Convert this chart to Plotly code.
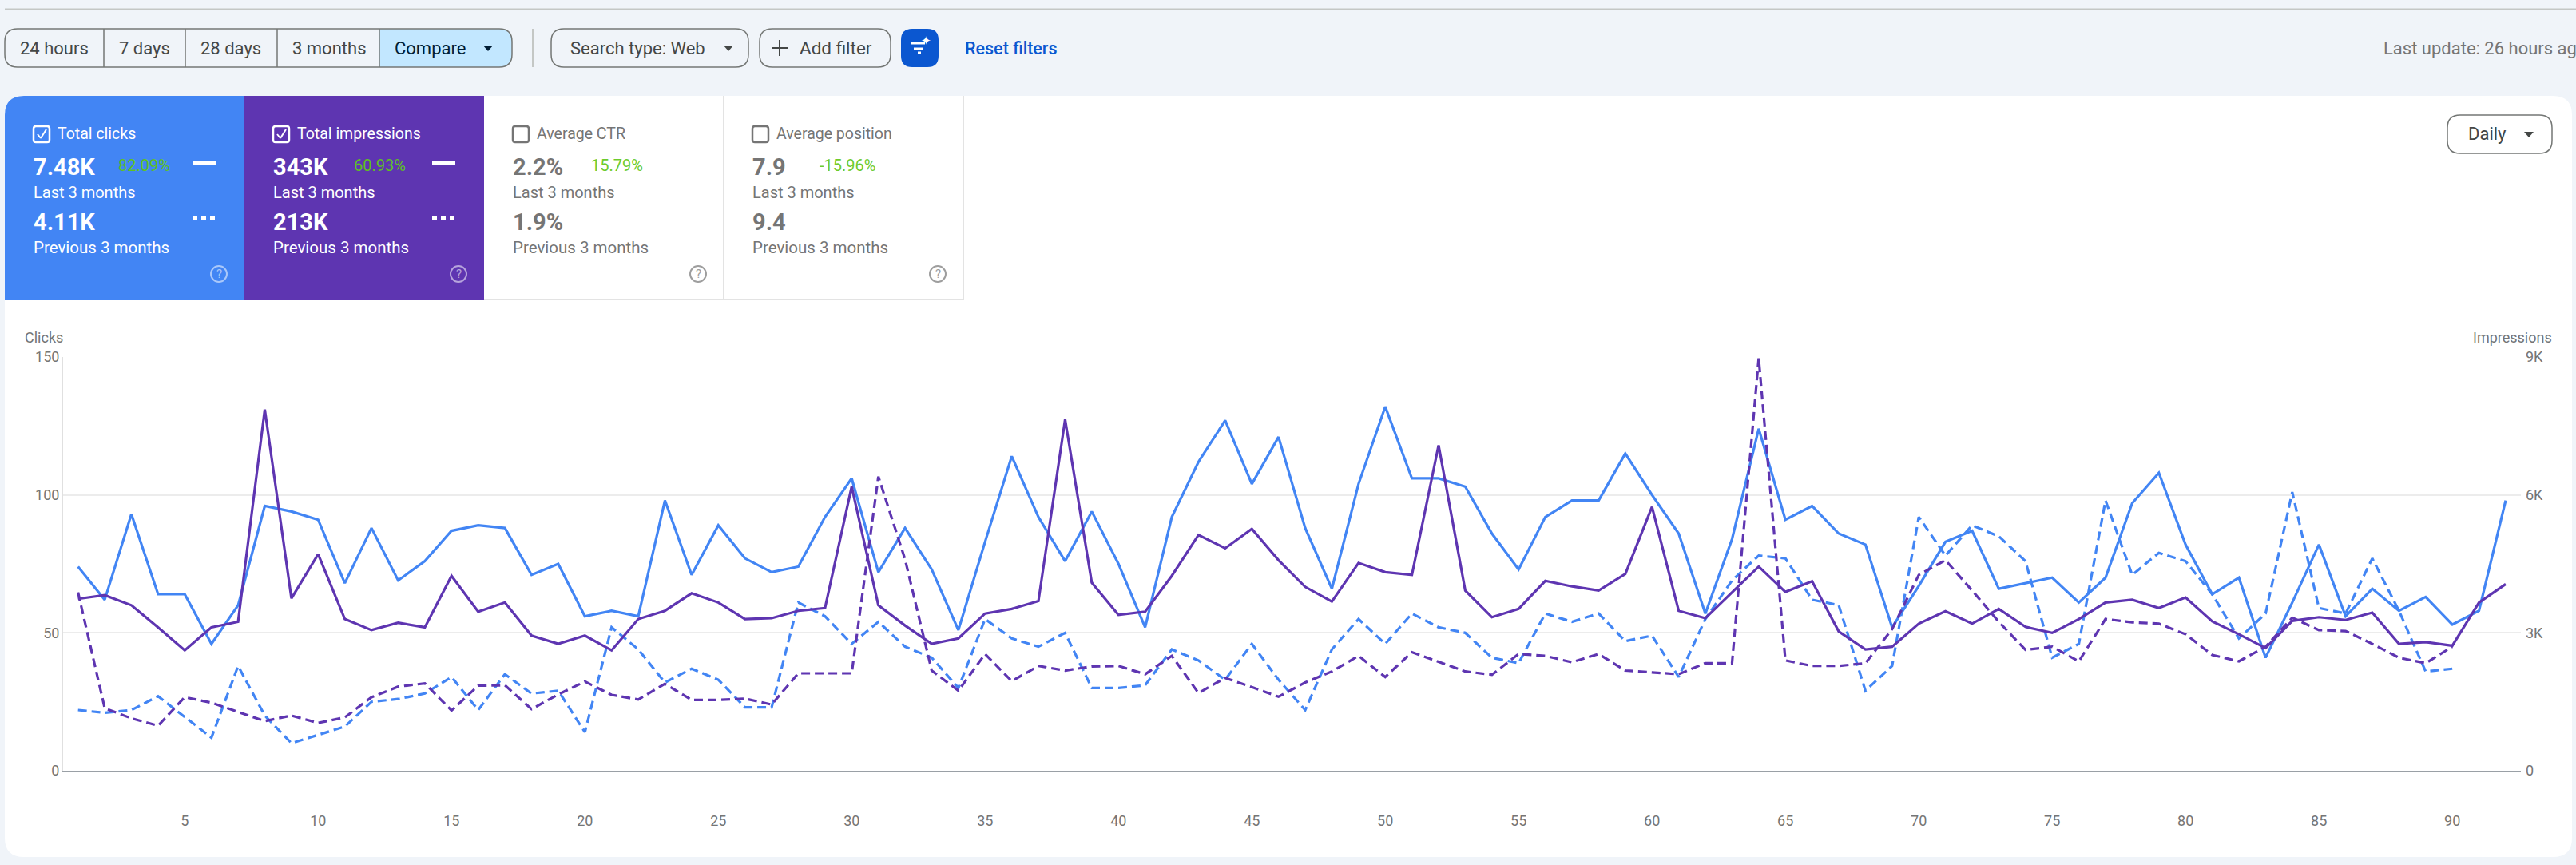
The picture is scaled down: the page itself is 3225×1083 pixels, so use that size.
import plotly.graph_objects as go

W = 3225
H = 1083

# Values
clicks_current = [74, 62, 93, 64, 64, 46, 60, 96, 94, 91, 68, 88, 69, 76, 87, 89, 88, 71, 75, 56, 58, 56, 98,
                  71, 89, 77, 72, 74, 92, 106, 72, 88, 73, 51, 83, 114, 92, 76, 94, 75, 52, 92, 112, 127, 104,
                  121, 88, 66, 104, 132, 106, 106, 103, 86, 73, 92, 98, 98, 115, 100, 86, 57, 84, 124, 91, 96,
                  86, 82, 52, 67, 83, 87, 66, 68, 70, 61, 70, 97, 108, 82, 64, 70, 41, 61, 82, 56, 66, 58, 63,
                  53, 58, 98]
clicks_previous = [22, 21, 22, 27, 19.5, 12, 38, 20, 10, 13, 16, 25, 26, 28, 34, 22, 35, 28, 29, 14, 52, 44,
                   32, 37, 33, 23, 23, 61, 56, 46, 54, 45, 41, 30, 55, 48, 45, 50, 30, 30, 31, 44, 40, 33, 46,
                   33, 22, 44, 55, 46, 57, 52, 50, 41, 39, 57, 54, 57, 47, 49, 34, 55, 69, 78, 77, 62, 60, 29,
                   38, 92, 78, 89, 85, 76, 41, 46, 98, 71, 79, 76, 64, 48, 57, 101, 59, 57, 77, 58, 36, 37]
impressions_current = [3740, 3820, 3600, 3120, 2620, 3120, 3240, 7860, 3750, 4710, 3300, 3060, 3220, 3120,
                       4240, 3460, 3660, 2940, 2760, 2940, 2620, 3300, 3480, 3860, 3660, 3300, 3320, 3480,
                       3540, 6180, 3600, 3160, 2760, 2880, 3420, 3520, 3690, 7640, 4090, 3390, 3460, 4240,
                       5130, 4840, 5260, 4580, 4000, 3680, 4520, 4320, 4260, 7080, 3920, 3340, 3520, 4130,
                       4010, 3920, 4280, 5740, 3480, 3320, 3880, 4440, 3890, 4120, 3030, 2640, 2700, 3200,
                       3470, 3200, 3520, 3130, 3000, 3300, 3660, 3720, 3540, 3770, 3250, 2970, 2670, 3260,
                       3340, 3280, 3440, 2760, 2800, 2720, 3660, 4060]
impressions_previous = [3880, 1360, 1140, 980, 1600, 1480, 1280, 1080, 1200, 1040, 1160, 1600, 1830, 1900,
                        1310, 1850, 1860, 1340, 1660, 1940, 1650, 1550, 1890, 1540, 1540, 1570, 1440, 2120,
                        2120, 2120, 6400, 4600, 2180, 1740, 2540, 1950, 2280, 2180, 2270, 2280, 2100, 2500,
                        1690, 2020, 1820, 1610, 1920, 2160, 2500, 2040, 2580, 2370, 2160, 2090, 2540, 2500,
                        2360, 2540, 2180, 2140, 2100, 2340, 2340, 8970, 2400, 2280, 2280, 2340, 3080, 4260,
                        4580, 3920, 3240, 2630, 2700, 2380, 3300, 3230, 3200, 2970, 2520, 2380, 2700, 3330,
                        3060, 3040, 2760, 2460, 2340, 2700]

x_ticks = [5, 10, 15, 20, 25, 30, 35, 40, 45, 50, 55, 60, 65, 70, 75, 80, 85, 90]
clicks_ticks = [0, 50, 100, 150]
impressions_ticks = [0, 3000, 6000, 9000]
impressions_ticktext = ['0', '3K', '6K', '9K']

# Score cards
card_names = ['Total clicks', 'Total impressions', 'Average CTR', 'Average position']
card_current = ['7.48K', '343K', '2.2%', '7.9']
card_previous = ['4.11K', '213K', '1.9%', '9.4']
card_change = ['82.09%', '60.93%', '15.79%', '-15.96%']
range_buttons = ['24 hours', '7 days', '28 days', '3 months', 'Compare']

BLUE = '#4285f4'
PURPLE = '#5e35b1'
PAGE = '#f0f4f9'
GREY_TEXT = '#757575'
DARK_TEXT = '#444746'
FONT = 'Roboto'

shapes = []
annotations = []


def px(x):
    return x / W


def py(y):
    return 1 - y / H


def round_rect(x0, y0, x1, y1, r=0, rl=None, rr=None, **kw):
    # rounded box in page pixels, rl / rr override the radius per side
    rl = r if rl is None else rl
    rr = r if rr is None else rr
    path = (f'M {px(x0 + rl)} {py(y0)} L {px(x1 - rr)} {py(y0)} '
            f'Q {px(x1)} {py(y0)} {px(x1)} {py(y0 + rr)} L {px(x1)} {py(y1 - rr)} '
            f'Q {px(x1)} {py(y1)} {px(x1 - rr)} {py(y1)} L {px(x0 + rl)} {py(y1)} '
            f'Q {px(x0)} {py(y1)} {px(x0)} {py(y1 - rl)} L {px(x0)} {py(y0 + rl)} '
            f'Q {px(x0)} {py(y0)} {px(x0 + rl)} {py(y0)} Z')
    shapes.append(dict(type='path', path=path, xref='paper', yref='paper', layer='below',
                       fillcolor=kw.get('fill', 'rgba(0,0,0,0)'),
                       line=dict(color=kw.get('line', 'rgba(0,0,0,0)'), width=kw.get('width', 0))))


def seg(x0, y0, x1, y1, color, width=2, dash='solid'):
    shapes.append(dict(type='line', xref='paper', yref='paper', layer='below',
                       x0=px(x0), y0=py(y0), x1=px(x1), y1=py(y1),
                       line=dict(color=color, width=width, dash=dash)))


def triangle(cx, cy, color, size=6):
    path = (f'M {px(cx - size)} {py(cy - size / 2)} L {px(cx + size)} {py(cy - size / 2)} '
            f'L {px(cx)} {py(cy + size / 2 + 1)} Z')
    shapes.append(dict(type='path', path=path, xref='paper', yref='paper', layer='below',
                       fillcolor=color, line=dict(width=0)))


def label(x, y, text, size, color, anchor='left', weight=400):
    annotations.append(dict(x=px(x), y=py(y), xref='paper', yref='paper', text=text, showarrow=False,
                            xanchor=anchor, yanchor='middle', borderpad=0,
                            font=dict(family=FONT, size=size, color=color, weight=weight)))


# Page furniture
seg(6, 11.5, W, 11.5, '#c4c7c5', 2)
round_rect(6, 120, 3220, 1073, r=24, fill='white')

# Date range buttons
BTN_TOP, BTN_BOTTOM = 36, 84
OUTLINE = '#747775'
edges = [6, 130, 232, 347, 475, 641]
round_rect(475, BTN_TOP, 641, BTN_BOTTOM, rl=0, rr=16, fill='#c2e7ff')
round_rect(6, BTN_TOP, 641, BTN_BOTTOM, r=16, line=OUTLINE, width=1.5)
for e in edges[1:-1]:
    seg(e, BTN_TOP, e, BTN_BOTTOM, OUTLINE, 1.5)
for name, start in zip(range_buttons, edges):
    label(start + 18, 60, name, 22, '#001d35' if name == 'Compare' else DARK_TEXT)
triangle(611, 60, '#001d35', 6)
seg(667, BTN_TOP, 667, BTN_BOTTOM, '#c4c7c5', 2)

round_rect(690, BTN_TOP, 937, BTN_BOTTOM, r=16, line=OUTLINE, width=1.5)
label(713, 60, 'Search type: Web', 22, DARK_TEXT)
triangle(912, 60, DARK_TEXT, 6)

round_rect(951, BTN_TOP, 1115, BTN_BOTTOM, r=16, line=OUTLINE, width=1.5)
seg(966, 60, 986, 60, DARK_TEXT, 2)
seg(976, 50, 976, 70, DARK_TEXT, 2)
label(1000, 60, 'Add filter', 22.5, DARK_TEXT)

round_rect(1128, BTN_TOP, 1175, BTN_BOTTOM, r=14, fill='#0b57d0')
seg(1141, 54, 1158, 54, 'white', 3)
seg(1144, 61, 1155, 61, 'white', 3)
seg(1149, 66, 1153, 66, 'white', 3)
label(1159, 51, '\u2726', 15, 'white', anchor='center')
label(1207, 60, 'Reset filters', 21.5, '#0b57d0', weight=500)
label(2983, 60, 'Last update: 26 hours ago', 22, GREY_TEXT)

# Score cards, only the top left corner of the first one is round
CARD_W = 300
CARD_TOP, CARD_BOTTOM = 120, 375
round_rect(6, CARD_TOP, 306, 220, rl=24, rr=0, fill=BLUE)
round_rect(6, 190, 306, CARD_BOTTOM, fill=BLUE)
round_rect(306, CARD_TOP, 606, CARD_BOTTOM, fill=PURPLE)
seg(606, CARD_BOTTOM, 1206, CARD_BOTTOM, '#e3e3e3', 2)
seg(906, CARD_TOP, 906, CARD_BOTTOM, '#e3e3e3', 2)
seg(1206, CARD_TOP, 1206, CARD_BOTTOM, '#e3e3e3', 2)

change_x = [147, 442, 739, 1025]
for i, name in enumerate(card_names):
    left = 42 + i * CARD_W
    active = i < 2
    main = 'white' if active else GREY_TEXT
    green = '#5fc11f' if active else '#6ccb2c'
    round_rect(left, 158, left + 20, 178, r=3, line=main, width=2.5)
    if active:
        seg(left + 5, 168, left + 9, 173, main, 2)
        seg(left + 9, 173, left + 16, 162, main, 2)
    label(left + 29, 168, name, 19.5, main)
    label(left - 1, 209, card_current[i], 29, main, weight=700)
    label(change_x[i], 207, card_change[i], 20, green)
    label(left - 1, 241, 'Last 3 months', 20, main)
    label(left - 1, 278, card_previous[i], 29, main, weight=700)
    label(left - 1, 310, 'Previous 3 months', 20.5, main)
    if active:
        seg(left + 199, 204, left + 228, 204, 'white', 4)
        seg(left + 199, 273, left + 228, 273, 'white', 4, dash='6px,5px')
    help_color = 'rgba(255,255,255,0.55)' if active else '#9e9e9e'
    shapes.append(dict(type='circle', xref='paper', yref='paper', layer='below',
                       x0=px(left + 222), y0=py(333), x1=px(left + 242), y1=py(353),
                       line=dict(color=help_color, width=2)))
    label(left + 232, 343, '?', 15, help_color, anchor='center')

# Daily selector
round_rect(3064, 144, 3195, 192, r=16, line=OUTLINE, width=1.5)
label(3089, 168, 'Daily', 22, DARK_TEXT)
triangle(3166, 168, DARK_TEXT, 6)

# Axis titles
label(30, 422, 'Clicks', 18, GREY_TEXT)
label(3196, 422, 'Impressions', 18, GREY_TEXT, anchor='right')

days_current = list(range(1, len(clicks_current) + 1))
days_previous = list(range(1, len(clicks_previous) + 1))

fig = go.Figure()
fig.add_trace(go.Scatter(x=days_previous, y=clicks_previous, mode='lines', name='Clicks previous',
                         line=dict(color=BLUE, width=3.2, dash='11px,6px')))
fig.add_trace(go.Scatter(x=days_current, y=clicks_current, mode='lines', name='Clicks',
                         line=dict(color=BLUE, width=3.2)))
fig.add_trace(go.Scatter(x=days_previous, y=impressions_previous, mode='lines', name='Impressions previous',
                         yaxis='y2', line=dict(color=PURPLE, width=3.2, dash='11px,6px')))
fig.add_trace(go.Scatter(x=days_current, y=impressions_current, mode='lines', name='Impressions',
                         yaxis='y2', line=dict(color=PURPLE, width=3.2)))

tick_font = dict(family=FONT, size=18, color=GREY_TEXT)
fig.update_layout(
    width=W, height=H, margin=dict(l=0, r=0, t=0, b=0, autoexpand=False), autosize=False,
    paper_bgcolor=PAGE, plot_bgcolor='rgba(0,0,0,0)', showlegend=False,
    shapes=shapes, annotations=annotations,
    xaxis=dict(domain=[px(79), px(3156)], range=[0.44, 92.57], tickmode='array', tickvals=x_ticks,
               showgrid=False, zeroline=False, showline=True, linecolor='#9aa0a6', linewidth=1.5,
               ticks='', tickfont=tick_font, ticklabelstandoff=46),
    yaxis=dict(domain=[py(965), py(447)], range=[0, 150], tickmode='array', tickvals=clicks_ticks,
               gridcolor='#ececec', gridwidth=2, zeroline=False, showline=True, linecolor='#e0e0e0',
               ticks='', tickfont=tick_font),
    yaxis2=dict(overlaying='y', side='right', range=[0, 9000], tickmode='array',
                tickvals=impressions_ticks, ticktext=impressions_ticktext, showgrid=False,
                zeroline=False, showline=False, ticks='', tickfont=tick_font, ticklabelstandoff=5),
)

fig.write_html("out.html", config=dict(displayModeBar=False),
               post_script="document.body.style.margin='0';document.body.style.overflow='hidden';")
